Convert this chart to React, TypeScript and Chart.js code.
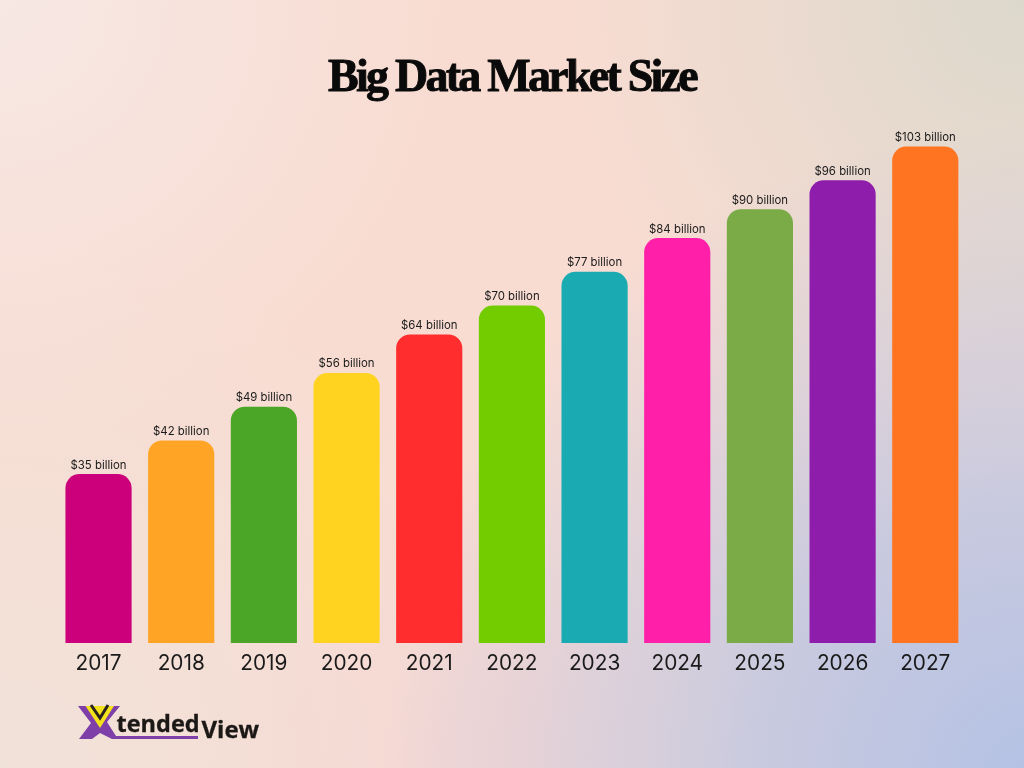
import React, { useEffect, useRef } from "react";
import { Chart, registerables } from "chart.js";

Chart.register(...registerables);

const years = ["2017", "2018", "2019", "2020", "2021", "2022", "2023", "2024", "2025", "2026", "2027"];
const marketSize = [35, 42, 49, 56, 64, 70, 77, 84, 90, 96, 103];
const valueLabels = ["$35 billion", "$42 billion", "$49 billion", "$56 billion", "$64 billion", "$70 billion", "$77 billion", "$84 billion", "$90 billion", "$96 billion", "$103 billion"];
const barColors = ["#cc007a", "#ffa424", "#4ba526", "#ffd31f", "#ff2d2d", "#72cc00", "#1aabb2", "#ff1fa8", "#7bab47", "#8f1dab", "#ff7420"];

const titleTracking = "-2.75px";

const valueLabelPlugin = {
  id: "valueLabels",
  afterDatasetsDraw(chart: any) {
    const { ctx } = chart;
    const meta = chart.getDatasetMeta(0);
    ctx.save();
    ctx.font = "11.4px Inter";
    ctx.fillStyle = "#1a1a1a";
    ctx.textAlign = "center";
    ctx.textBaseline = "middle";
    meta.data.forEach((bar: any, i: number) => {
      ctx.fillText(valueLabels[i], bar.x, bar.y - 9.3);
    });
    ctx.restore();
  },
};

// The reference title is a heavy display serif: track it tighter and thicken it with a stroke.
const titleWeightPlugin = {
  id: "titleWeight",
  beforeDraw(chart: any) {
    chart.ctx.letterSpacing = titleTracking;
  },
  beforeDatasetsDraw(chart: any) {
    chart.ctx.letterSpacing = "0px";
  },
  afterDatasetsDraw(chart: any) {
    const { ctx, width } = chart;
    const box = chart.titleBlock;
    const opts = chart.options.plugins.title;
    ctx.save();
    ctx.letterSpacing = titleTracking;
    ctx.font = `bold ${opts.font.size}px ${opts.font.family}`;
    ctx.textAlign = "center";
    ctx.textBaseline = "middle";
    ctx.strokeStyle = opts.color;
    ctx.lineWidth = 0.9;
    ctx.strokeText(opts.text, width / 2, box.top + opts.padding.top + (opts.font.size * opts.font.lineHeight) / 2);
    ctx.restore();
  },
};

export default function App() {
  const ref = useRef<HTMLCanvasElement>(null);
  useEffect(() => {
    const chart = new Chart(ref.current!, {
      type: "bar",
      data: {
        labels: years,
        datasets: [
          {
            data: marketSize,
            backgroundColor: barColors,
            barThickness: 65.5,
            borderSkipped: false,
            borderRadius: { topLeft: 14, topRight: 14, bottomLeft: 0, bottomRight: 0 },
          },
        ],
      },
      options: {
        animation: false,
        responsive: false,
        layout: { padding: { left: 57.2, right: 57.4, top: 0, bottom: 0 } },
        plugins: {
          legend: { display: false },
          tooltip: { enabled: false },
          title: {
            display: true,
            text: "Big Data Market Size",
            color: "#0a0a0a",
            font: { family: "'Liberation Serif'", size: 46, weight: "bold", lineHeight: 1.2 },
            padding: { top: 52, bottom: 6 },
          },
        },
        scales: {
          x: {
            grid: { display: false },
            border: { display: false },
            ticks: { color: "#1a1a1a", font: { family: "Inter", size: 20.8 }, padding: 0, maxRotation: 0, z: 1 },
            afterFit: (s: any) => {
              s.height = 125;
            },
          },
          y: { display: false, min: 0, max: 110 },
        },
      },
      plugins: [valueLabelPlugin, titleWeightPlugin],
    } as any);
    return () => chart.destroy();
  }, []);

  return (
    <div
      style={{
        position: "fixed",
        inset: 0,
        overflow: "hidden",
        background:
          "radial-gradient(circle at 100% 100%, #b5c2e4 0%, rgba(181,194,228,0.72) 20%, rgba(181,194,228,0) 50%), radial-gradient(circle at 100% 0%, #dcd8cc 0%, rgba(220,216,204,0) 36%), radial-gradient(circle at 0% 0%, #f7e8e4 0%, rgba(247,232,228,0) 35%), radial-gradient(circle at 0% 100%, #f1e2d9 0%, rgba(241,226,217,0) 42%), radial-gradient(circle at 42% 100%, #f6d5d2 0%, rgba(246,213,210,0) 30%), #f8dcd2",
      }}
    >
      <canvas ref={ref} width={1024} height={768} style={{ display: "block" }} />
      <svg width={200} height={50} viewBox="70 700 200 50" style={{ position: "absolute", left: 70, top: 700 }}>
        <polygon points="78,706 120,706 107,722 116,736 198,736 198,739 112,739 100,733 92,739 79,739 91,723" fill="#7f3fa8" />
        <polygon points="85.5,706 114,706 100,728" fill="#f3e21c" />
        <polyline points="91,705 100,718 108,705" fill="none" stroke="#2a2320" strokeWidth={3} />
        <text x={116.5} y={732} fontFamily="'Open Sans'" fontWeight={700} fontSize={23.5} fill="#1c1816" stroke="#1c1816" strokeWidth={0.3}>tended</text>
        <text x={201.5} y={738} fontFamily="'Open Sans'" fontWeight={700} fontSize={24} fill="#1c1816" stroke="#1c1816" strokeWidth={0.3}>View</text>
      </svg>
    </div>
  );
}
